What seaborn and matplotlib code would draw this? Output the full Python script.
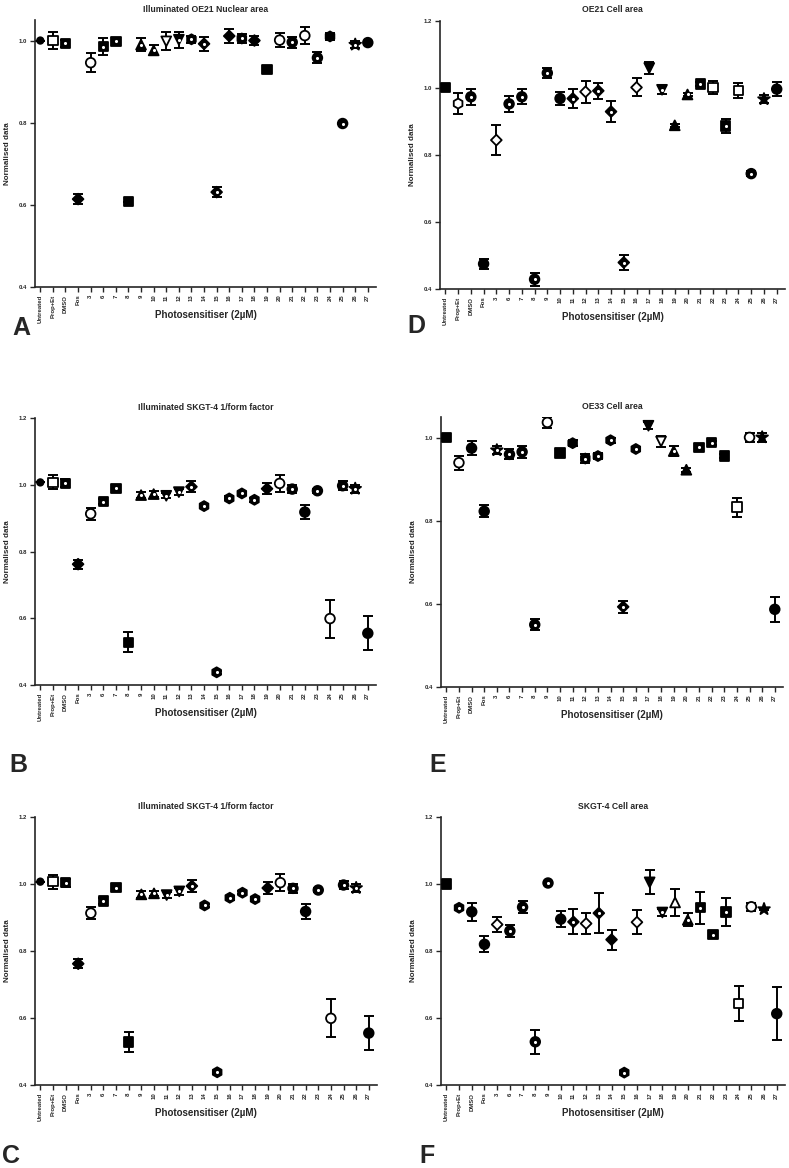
import numpy as np
import pandas as pd
import matplotlib
matplotlib.use("Agg")
import matplotlib.pyplot as plt
import seaborn as sns

# ---------------- data ----------------
categories = ["Untreated", "Prop+Et", "DMSO", "Fos", "3", "6", "7", "8", "9", "10",
              "11", "12", "13", "14", "15", "16", "17", "18", "19", "20",
              "21", "22", "23", "24", "25", "26", "27"]

a_vals = [1.000, 1.000, 0.993, 0.614, 0.946, 0.985, 0.998, 0.608, 0.990, 0.976,
          0.998, 1.002, 1.003, 0.992, 0.631, 1.011, 1.005, 1.000, 0.930, 1.001,
          0.996, 1.012, 0.958, 1.010, 0.798, 0.990, 0.995]
a_errs = [0, 0.020, 0.008, 0.012, 0.023, 0.020, 0.008, 0, 0.015, 0.012,
          0.022, 0.020, 0.008, 0.017, 0.013, 0.018, 0.010, 0.012, 0.003, 0.017,
          0.013, 0.020, 0.013, 0.008, 0, 0.008, 0]

d_vals = [1.000, 0.953, 0.973, 0.475, 0.844, 0.952, 0.973, 0.429, 1.044, 0.968,
          0.968, 0.988, 0.991, 0.929, 0.479, 1.001, 1.059, 0.994, 0.888, 0.980,
          1.011, 1.000, 0.886, 0.992, 0.744, 0.966, 0.996]
d_errs = [0, 0.031, 0.023, 0.015, 0.044, 0.024, 0.022, 0.020, 0.015, 0.020,
          0.027, 0.032, 0.023, 0.031, 0.022, 0.027, 0.019, 0.012, 0.005, 0.005,
          0.007, 0.020, 0.022, 0.021, 0.007, 0.012, 0.022]

b_vals = [1.007, 1.007, 1.004, 0.762, 0.913, 0.949, 0.989, 0.528, 0.969, 0.972,
          0.967, 0.978, 0.994, 0.936, 0.438, 0.959, 0.974, 0.955, 0.988, 1.004,
          0.987, 0.918, 0.982, 0.599, 0.997, 0.988, 0.555]
b_errs = [0, 0.021, 0.012, 0.013, 0.018, 0.008, 0.005, 0.030, 0.010, 0.008,
          0.008, 0.010, 0.017, 0.005, 0.005, 0.006, 0.005, 0.006, 0.017, 0.025,
          0.013, 0.022, 0.006, 0.057, 0.013, 0.012, 0.051]

c_vals = [1.007, 1.007, 1.004, 0.762, 0.913, 0.949, 0.989, 0.528, 0.969, 0.972,
          0.967, 0.978, 0.994, 0.936, 0.438, 0.959, 0.974, 0.955, 0.988, 1.004,
          0.987, 0.918, 0.982, 0.599, 0.997, 0.988, 0.555]
c_errs = [0, 0.021, 0.012, 0.013, 0.018, 0.008, 0.005, 0.030, 0.010, 0.008,
          0.008, 0.010, 0.017, 0.005, 0.005, 0.006, 0.005, 0.006, 0.017, 0.025,
          0.013, 0.022, 0.006, 0.057, 0.013, 0.012, 0.051]

e_vals = [1.000, 0.940, 0.975, 0.823, 0.970, 0.960, 0.966, 0.550, 1.037, 0.963,
          0.987, 0.950, 0.956, 0.994, 0.593, 0.973, 1.029, 0.991, 0.968, 0.923,
          0.977, 0.988, 0.956, 0.833, 1.001, 1.001, 0.587]
e_errs = [0, 0.017, 0.017, 0.014, 0.010, 0.012, 0.015, 0.013, 0.014, 0.004,
          0.008, 0.010, 0.007, 0.006, 0.015, 0.005, 0.008, 0.013, 0.011, 0.005,
          0.005, 0.005, 0.004, 0.023, 0.010, 0.010, 0.030]

f_vals = [1.000, 0.929, 0.917, 0.820, 0.879, 0.860, 0.931, 0.529, 1.003, 0.895,
          0.887, 0.882, 0.913, 0.834, 0.437, 0.886, 1.005, 0.915, 0.945, 0.893,
          0.929, 0.849, 0.916, 0.644, 0.932, 0.925, 0.613]
f_errs = [0, 0.004, 0.027, 0.024, 0.022, 0.019, 0.018, 0.036, 0.004, 0.023,
          0.037, 0.031, 0.059, 0.030, 0.005, 0.036, 0.036, 0.010, 0.041, 0.019,
          0.047, 0.005, 0.042, 0.053, 0.012, 0.004, 0.079]

titles = {
    "A": "Illuminated OE21 Nuclear area",
    "D": "OE21 Cell area",
    "B": "Illuminated SKGT-4 1/form factor",
    "E": "OE33 Cell area",
    "C": "Illuminated SKGT-4 1/form factor",
    "F": "SKGT-4 Cell area",
}
y_tick_labels_full = ["0.4", "0.6", "0.8", "1.0", "1.2"]
y_tick_labels_short = ["0.4", "0.6", "0.8", "1.0"]
x_label = "Photosensitiser (2\u00b5M)"
y_label = "Normalised data"

# ---------------- styles (marker symbol / fill type per category) ----------------
mk_A = "o s s D o s s s ^ ^ v v h D D D h D s o o o o h o * o".split()
fl_A = "f o d f o d d f d d o d d d d f d f f o d o d f d d f".split()
mk_D = "s h o o D o o o o o D D D D D D v v ^ ^ s s s s o * o".split()
fl_D = "f o d f o d d d d f d o d d d o f d f d d o d o d f f".split()
mk_B = "o s s D o s s s ^ ^ v v D h h h h h D o o o o o o * o".split()
fl_B = "f o d f o d d f d d d d d d d d d d f o d f d o d d f".split()
mk_C = list(mk_B)
fl_C = list(fl_B)
mk_E = "s o o o * o o o o s h h h h D h v v ^ ^ s s s s o * o".split()
fl_E = "f o f f d d d d o f f d d d d d f o d f d d f o o f f".split()
mk_F = "s h o o D o o o o o D D D D h D v v ^ ^ s s s s o * o".split()
fl_F = "f d f f o d d d d f d o d f d o f d o d d d d o o f f".split()

msize = {"o": 48, "s": 46, "D": 30, "^": 50, "v": 50, "h": 52, "*": 78}

plt.rcParams["figure.dpi"] = 100
sns.set_style("ticks")
plt.rcParams["font.family"] = ["Liberation Sans", "DejaVu Sans"]
plt.rcParams["font.weight"] = "bold"
plt.rcParams["axes.titleweight"] = "bold"
plt.rcParams["axes.labelweight"] = "bold"

W, H = 789, 1168
fig = plt.figure(figsize=(W / 100, H / 100), dpi=100)

# panel: letter, vals, errs, markers, fills, ytop, px rect (left, right, top, bottom), letter pos, small untreated
panels = [
    ("A", a_vals, a_errs, mk_A, fl_A, 1.05, (35, 376, 20, 287), (12, 335), True),
    ("D", d_vals, d_errs, mk_D, fl_D, 1.20, (440, 785, 20.7, 289), (407, 333), False),
    ("B", b_vals, b_errs, mk_B, fl_B, 1.20, (35, 376, 418, 685), (9, 772), True),
    ("E", e_vals, e_errs, mk_E, fl_E, 1.05, (441, 783, 417, 687), (429, 772), False),
    ("C", c_vals, c_errs, mk_C, fl_C, 1.20, (35, 377, 817, 1085), (2, 1163), True),
    ("F", f_vals, f_errs, mk_F, fl_F, 1.20, (441, 785, 817, 1085), (419, 1163), False),
]

for letter, vals, errs, mks, fls, ytop, (l, r, t, b), (lx, ly), small_first in panels:
    ax = fig.add_axes([l / W, 1 - b / H, (r - l) / W, (b - t) / H])
    df = pd.DataFrame({"cat": categories, "val": vals, "err": errs,
                       "mk": mks, "fill": fls})
    df["sz"] = [msize[m] for m in mks]
    if small_first:
        df.loc[0, "sz"] = 22

    ax.errorbar(df["cat"], df["val"], yerr=df["err"], fmt="none", ecolor="black",
                elinewidth=1.4, capsize=3.3, capthick=1.4, zorder=2)
    sns.scatterplot(data=df, x="cat", y="val", style="mk",
                    markers={m: m for m in set(mks)},
                    hue="fill", palette={"f": "black", "o": "white", "d": "black"},
                    size="sz", sizes=(df["sz"].min(), df["sz"].max()),
                    edgecolor="black", linewidth=1.3, legend=False, ax=ax, zorder=3)
    dd = df[df["fill"] == "d"]
    sns.scatterplot(data=dd, x="cat", y="val", marker="o", color="white",
                    s=5, linewidth=0, legend=False, ax=ax, zorder=4)

    ax.set_xlim(-0.42, 26.65)
    ax.set_ylim(0.4, ytop)
    if ytop > 1.1:
        ax.set_yticks([0.4, 0.6, 0.8, 1.0, 1.2])
        ax.set_yticklabels(y_tick_labels_full)
    else:
        ax.set_yticks([0.4, 0.6, 0.8, 1.0])
        ax.set_yticklabels(y_tick_labels_short)
    ax.tick_params(axis="both", length=3.5, width=1.0, labelsize=4.3, pad=2)
    ax.tick_params(axis="x", labelrotation=90)
    for lab in ax.get_xticklabels() + ax.get_yticklabels():
        lab.set_fontweight("bold")
    for s in ["left", "bottom"]:
        ax.spines[s].set_linewidth(1.2)
    sns.despine(ax=ax)

    ax.set_title(titles[letter], fontsize=6.2, pad=6)
    ax.set_xlabel(x_label, fontsize=7)
    ax.xaxis.set_label_coords(0.5, -22.5 / (b - t))
    ax.set_ylabel(y_label, fontsize=5.8)
    ax.yaxis.set_label_coords(-24 / (r - l), 0.5)

    fig.text(lx / W, 1 - ly / H, letter, fontsize=18, fontweight="bold",
             ha="left", va="baseline")

fig.savefig("out.png", dpi=100)
